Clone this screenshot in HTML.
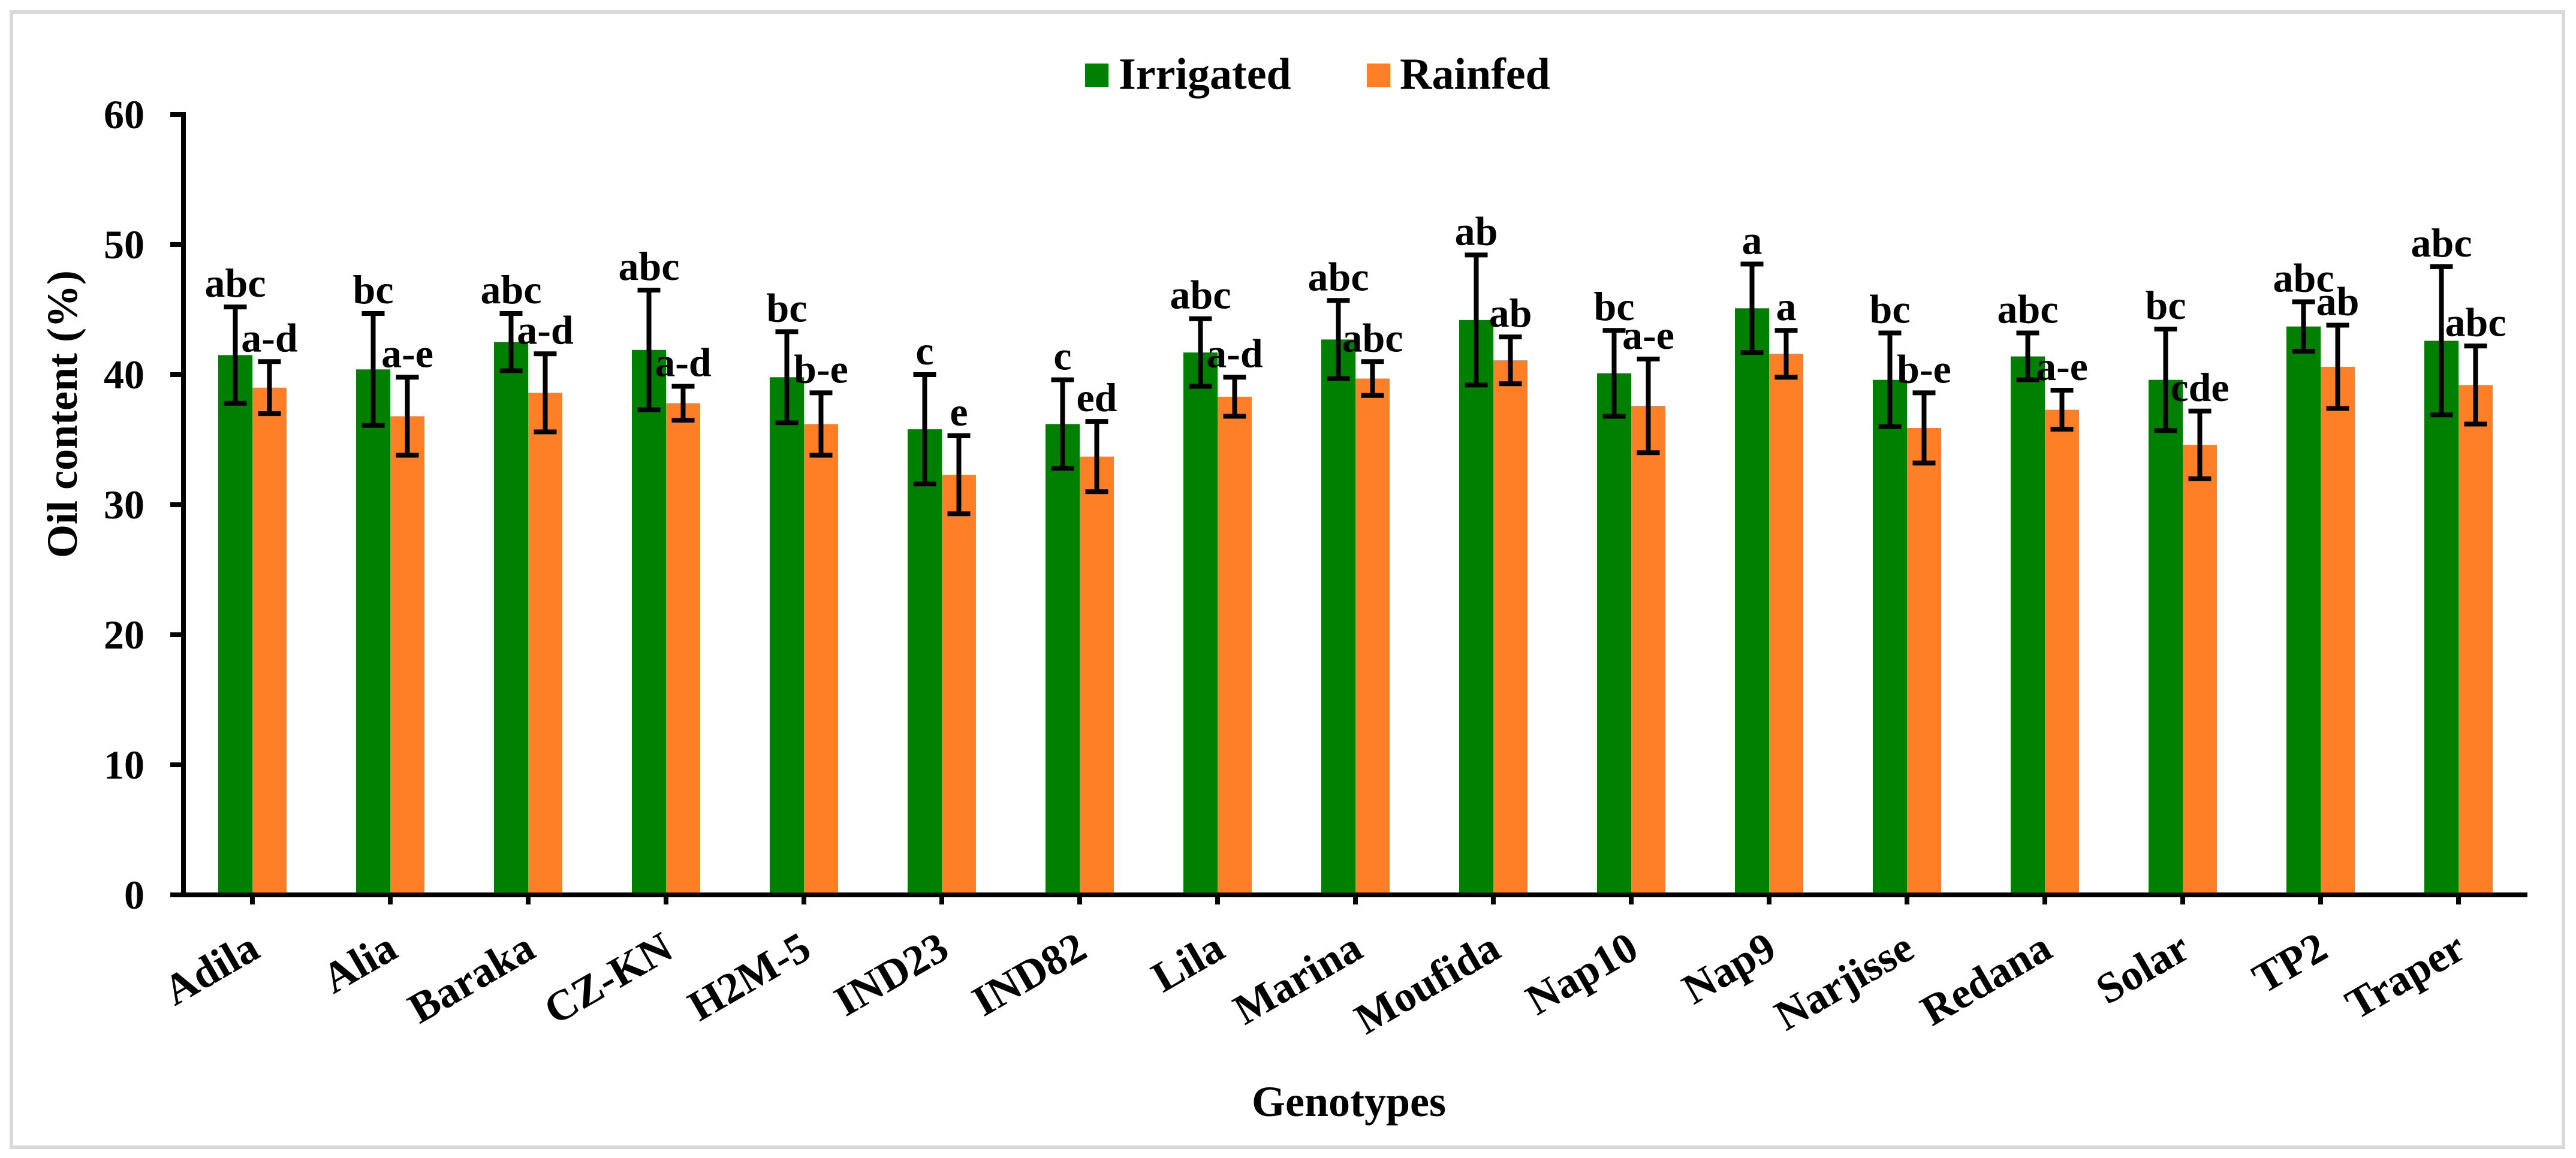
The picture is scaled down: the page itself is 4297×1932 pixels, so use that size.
<!DOCTYPE html>
<html><head><meta charset="utf-8"><style>
html,body{margin:0;padding:0;background:#fff;}
svg{display:block;font-family:"Liberation Serif",serif;font-weight:bold;}
</style></head><body>
<svg id="chart" width="4297" height="1932" viewBox="0 0 4297 1932" xmlns="http://www.w3.org/2000/svg">
<rect x="19" y="20" width="4257" height="1894" fill="#fff" stroke="#d9d9d9" stroke-width="6"/>
<g id="plot"></g>
<g>
  <g>
    <rect x="1810" y="106" width="39" height="39" fill="#008000"/>
    <text x="1866" y="148" font-size="74">Irrigated</text>
  </g>
  <g>
    <rect x="2280" y="106" width="39" height="39" fill="#ff7f27"/>
    <text x="2335" y="148" font-size="74">Rainfed</text>
  </g>
</g>
<text transform="translate(128,691) rotate(-90)" text-anchor="middle" font-size="72">Oil content (%)</text>
<text x="2250" y="1862" text-anchor="middle" font-size="72">Genotypes</text>
</svg>
<script>
const categories = ["Adila","Alia","Baraka","CZ-KN","H2M-5","IND23","IND82","Lila","Marina","Moufida","Nap10","Nap9","Narjisse","Redana","Solar","TP2","Traper"];
const irrigated = [41.5,40.4,42.5,41.9,39.8,35.8,36.2,41.7,42.7,44.2,40.1,45.1,39.6,41.4,39.6,43.7,42.6];
const irrigatedErr = [3.7,4.3,2.2,4.6,3.5,4.2,3.4,2.6,3.0,5.0,3.3,3.4,3.6,1.8,3.9,1.9,5.7];
const irrigatedLetters = ["abc","bc","abc","abc","bc","c","c","abc","abc","ab","bc","a","bc","abc","bc","abc","abc"];
const rainfed = [39.0,36.8,38.6,37.8,36.2,32.3,33.7,38.3,39.7,41.1,37.6,41.6,35.9,37.3,34.6,40.6,39.2];
const rainfedErr = [2.0,3.0,3.0,1.3,2.4,3.0,2.7,1.5,1.3,1.8,3.6,1.8,2.7,1.5,2.6,3.2,3.0];
const rainfedLetters = ["a-d","a-e","a-d","a-d","b-e","e","ed","a-d","abc","ab","a-e","a","b-e","a-e","cde","ab","abc"];
const yTicks = [0,10,20,30,40,50,60];

const NS = "http://www.w3.org/2000/svg";
const plot = document.getElementById('plot');
const X0 = 306, X1 = 4216, Y0 = 1493, Y1 = 191, YMAX = 60;
const band = (X1 - X0) / categories.length;
const barW = 57;
function yScale(v){ return Y0 - (v / YMAX) * (Y0 - Y1); }
function xCenter(i){ return X0 + band * (i + 0.5); }
function mk(tag, attrs){ const e = document.createElementNS(NS, tag); for (const k in attrs) e.setAttribute(k, attrs[k]); return e; }

function drawSeries(vals, errs, letters, color, offset, sname){
  vals.forEach((v, i) => {
    const cx = xCenter(i) + offset;
    const r = mk('rect', {x: cx - barW/2, y: yScale(v), width: barW, height: Y0 - yScale(v), fill: color});
    
    
    plot.appendChild(r);
  });
  vals.forEach((v, i) => {
    const cx = xCenter(i) + offset;
    const top = yScale(v + errs[i]), bot = yScale(v - errs[i]);
    const g = mk('g', {stroke: '#000', 'stroke-width': 8});
    
    
    g.appendChild(mk('line', {x1: cx, x2: cx, y1: top, y2: bot}));
    g.appendChild(mk('line', {x1: cx - 19, x2: cx + 19, y1: top, y2: top}));
    g.appendChild(mk('line', {x1: cx - 19, x2: cx + 19, y1: bot, y2: bot}));
    plot.appendChild(g);
    const t = mk('text', {x: cx, y: top - 17, 'text-anchor': 'middle', 'font-size': 68});
    t.textContent = letters[i];
    
    
    plot.appendChild(t);
  });
}
drawSeries(irrigated, irrigatedErr, irrigatedLetters, '#008000', -barW/2, 'irrigated');
drawSeries(rainfed, rainfedErr, rainfedLetters, '#ff7f27', barW/2, 'rainfed');

const ax = mk('g', {stroke: '#000', 'stroke-width': 8});


ax.appendChild(mk('line', {x1: X0, x2: X0, y1: Y1 - 4, y2: Y0 + 4}));
ax.appendChild(mk('line', {x1: X0 - 4, x2: X1, y1: Y0, y2: Y0}));
plot.appendChild(ax);

yTicks.forEach(v => {
  const y = yScale(v);
  const tk = mk('line', {x1: X0 - 22, x2: X0, y1: y, y2: y, stroke: '#000', 'stroke-width': 8});
  
  
  plot.appendChild(tk);
  const t = mk('text', {x: 241, y: y + 23, 'text-anchor': 'end', 'font-size': 68});
  t.textContent = v;
  
  
  plot.appendChild(t);
});

categories.forEach((c, i) => {
  const x = xCenter(i);
  const tk = mk('line', {x1: x, x2: x, y1: Y0, y2: Y0 + 16, stroke: '#000', 'stroke-width': 8});
  
  
  plot.appendChild(tk);
  const t = mk('text', {transform: 'translate(' + (x + 16) + ',1595) rotate(-30)', 'text-anchor': 'end', 'font-size': 72});
  t.textContent = c;
  
  
  plot.appendChild(t);
});
</script>
</body></html>
